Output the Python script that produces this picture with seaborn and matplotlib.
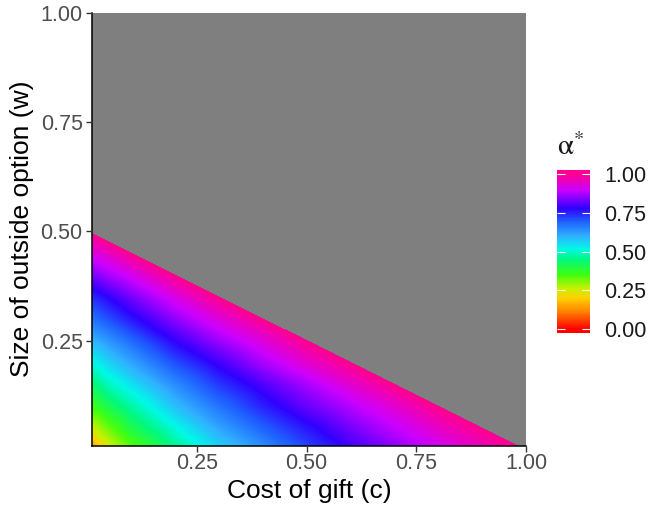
import numpy as np
import matplotlib
matplotlib.use("Agg")
import matplotlib.pyplot as plt
import matplotlib.tri as mtri
from matplotlib.colors import LinearSegmentedColormap
import seaborn as sns

# ---------------- data ----------------
c_levels = [0.01, 0.05, 0.10, 0.20, 0.30, 0.40, 0.50, 0.60, 0.70, 0.80, 0.90]
w_levels = [0.01, 0.05, 0.10, 0.15, 0.20, 0.25, 0.30, 0.35, 0.40, 0.45]
# alpha* along each w row (only inside the feasible region)
alpha_w01 = [0.14, 0.25, 0.33, 0.46, 0.56, 0.64, 0.72, 0.79, 0.85, 0.91, 0.96]
alpha_w05 = [0.25, 0.32, 0.40, 0.51, 0.61, 0.69, 0.76, 0.83, 0.89, 0.95]
alpha_w10 = [0.35, 0.41, 0.47, 0.58, 0.67, 0.75, 0.82, 0.88, 0.94]
alpha_w15 = [0.43, 0.49, 0.54, 0.64, 0.73, 0.80, 0.87, 0.94]
alpha_w20 = [0.51, 0.56, 0.61, 0.71, 0.79, 0.87, 0.94]
alpha_w25 = [0.59, 0.63, 0.68, 0.78, 0.86, 0.93]
alpha_w30 = [0.67, 0.71, 0.76, 0.85, 0.93]
alpha_w35 = [0.74, 0.78, 0.83, 0.92]
alpha_w40 = [0.83, 0.87, 0.91]
alpha_w45 = [0.92, 0.95]
alpha_rows = [alpha_w01, alpha_w05, alpha_w10, alpha_w15, alpha_w20,
              alpha_w25, alpha_w30, alpha_w35, alpha_w40, alpha_w45]
# frontier (beyond it alpha* is undefined -> grey); alpha* = 1 on it
frontier_c = [0.98, 0.90, 0.80, 0.70, 0.60, 0.50, 0.40, 0.30, 0.20, 0.10, 0.01]
frontier_w = [0.01, 0.05, 0.10, 0.15, 0.20, 0.25, 0.30, 0.35, 0.40, 0.45, 0.495]
frontier_alpha = 1.0

x_ticks = [0.25, 0.50, 0.75, 1.00]
y_ticks = [0.25, 0.50, 0.75, 1.00]
cbar_ticks = [0.00, 0.25, 0.50, 0.75, 1.00]

# ---------------- style ----------------
sns.set_theme(style="white")
plt.rcParams["font.family"] = ["Liberation Sans", "DejaVu Sans"]
plt.rcParams["mathtext.fontset"] = "stix"

stop_pos = [0.00, 0.11, 0.20, 0.26, 0.35, 0.45, 0.52, 0.60, 0.70, 0.78, 0.90, 1.00]
stop_col = ["#FF0000", "#FF8000", "#FFD000", "#C8F000", "#40FF10", "#00F880",
            "#00F8E8", "#30B0FF", "#1E5CFF", "#3000FF", "#CC00FF", "#FF0090"]
cmap = LinearSegmentedColormap.from_list("rb", list(zip(stop_pos, stop_col)), N=512)

W, H = 651, 513
fig = plt.figure(figsize=(W / 100, H / 100), dpi=100)
L, R, T, B = 91.7, 526.0, 12.7, 445.7
ax = fig.add_axes([L / W, 1 - B / H, (R - L) / W, (B - T) / H])
ax.set_facecolor("#7F7F7F")

cs, ws, zs = [], [], []
for w, row in zip(w_levels, alpha_rows):
    for c, a in zip(c_levels, row):
        cs.append(c); ws.append(w); zs.append(a)
for c, w in zip(frontier_c, frontier_w):
    cs.append(c); ws.append(w); zs.append(frontier_alpha)
tri = mtri.Triangulation(cs, ws)
cf = ax.tricontourf(tri, zs, levels=np.linspace(0, 1, 201), cmap=cmap,
                    vmin=0, vmax=1, antialiased=False)

ax.set_xlim(0.01, 1.0)
ax.set_ylim(0.01, 1.0)
ax.set_xticks(x_ticks)
ax.set_xticklabels([f"{v:.2f}" for v in x_ticks])
ax.set_yticks(y_ticks)
ax.set_yticklabels([f"{v:.2f}" for v in y_ticks])
for s in ["top", "right"]:
    ax.spines[s].set_visible(False)
for s in ["left", "bottom"]:
    ax.spines[s].set_color("black")
    ax.spines[s].set_linewidth(1.1)
ax.set_axisbelow(False)
ax.tick_params(axis="both", direction="out", length=4, width=1, color="#333333",
               labelsize=15.5, labelcolor="#4D4D4D", bottom=True, left=True)
ax.tick_params(axis="x", pad=1.5)
ax.tick_params(axis="y", pad=2.5)
ax.set_xlabel("Cost of gift (c)", fontsize=19, color="black", labelpad=3.5)
ax.set_ylabel("Size of outside option (w)", fontsize=19, color="black", labelpad=5)
ax.grid(False)

# ---------------- colour bar (seaborn heatmap strip) ----------------
cx0, cx1, cy0, cy1 = 557.3, 590.0, 170.0, 333.3
cax = fig.add_axes([cx0 / W, 1 - cy1 / H, (cx1 - cx0) / W, (cy1 - cy0) / H])
lo, hi, n = -0.026, 1.026, 300
grad = np.linspace(hi, lo, n)[:, None]
sns.heatmap(grad, ax=cax, cmap=cmap, vmin=0, vmax=1, cbar=False,
            xticklabels=False, yticklabels=False)
cax.set_axisbelow(False)
ypos = [(hi - v) / (hi - lo) * n for v in cbar_ticks]
cax.set_yticks(ypos)
cax.set_yticklabels([f"{v:.2f}" for v in cbar_ticks])
cax.yaxis.tick_right()
cax.tick_params(axis="y", left=True, right=True, direction="in", length=6,
                width=0.8, color="white", labelsize=15.5, labelcolor="#1A1A1A",
                pad=10.5)
cax.set_xticks([])
for line in cax.yaxis.get_ticklines():
    line.set_zorder(5)
fig.text(cx0 / W, 1 - 147 / H, r"$\mathrm{\alpha}^{*}$", fontsize=21, ha="left",
         va="center", color="#1A1A1A")

fig.savefig("out.png", dpi=100)
